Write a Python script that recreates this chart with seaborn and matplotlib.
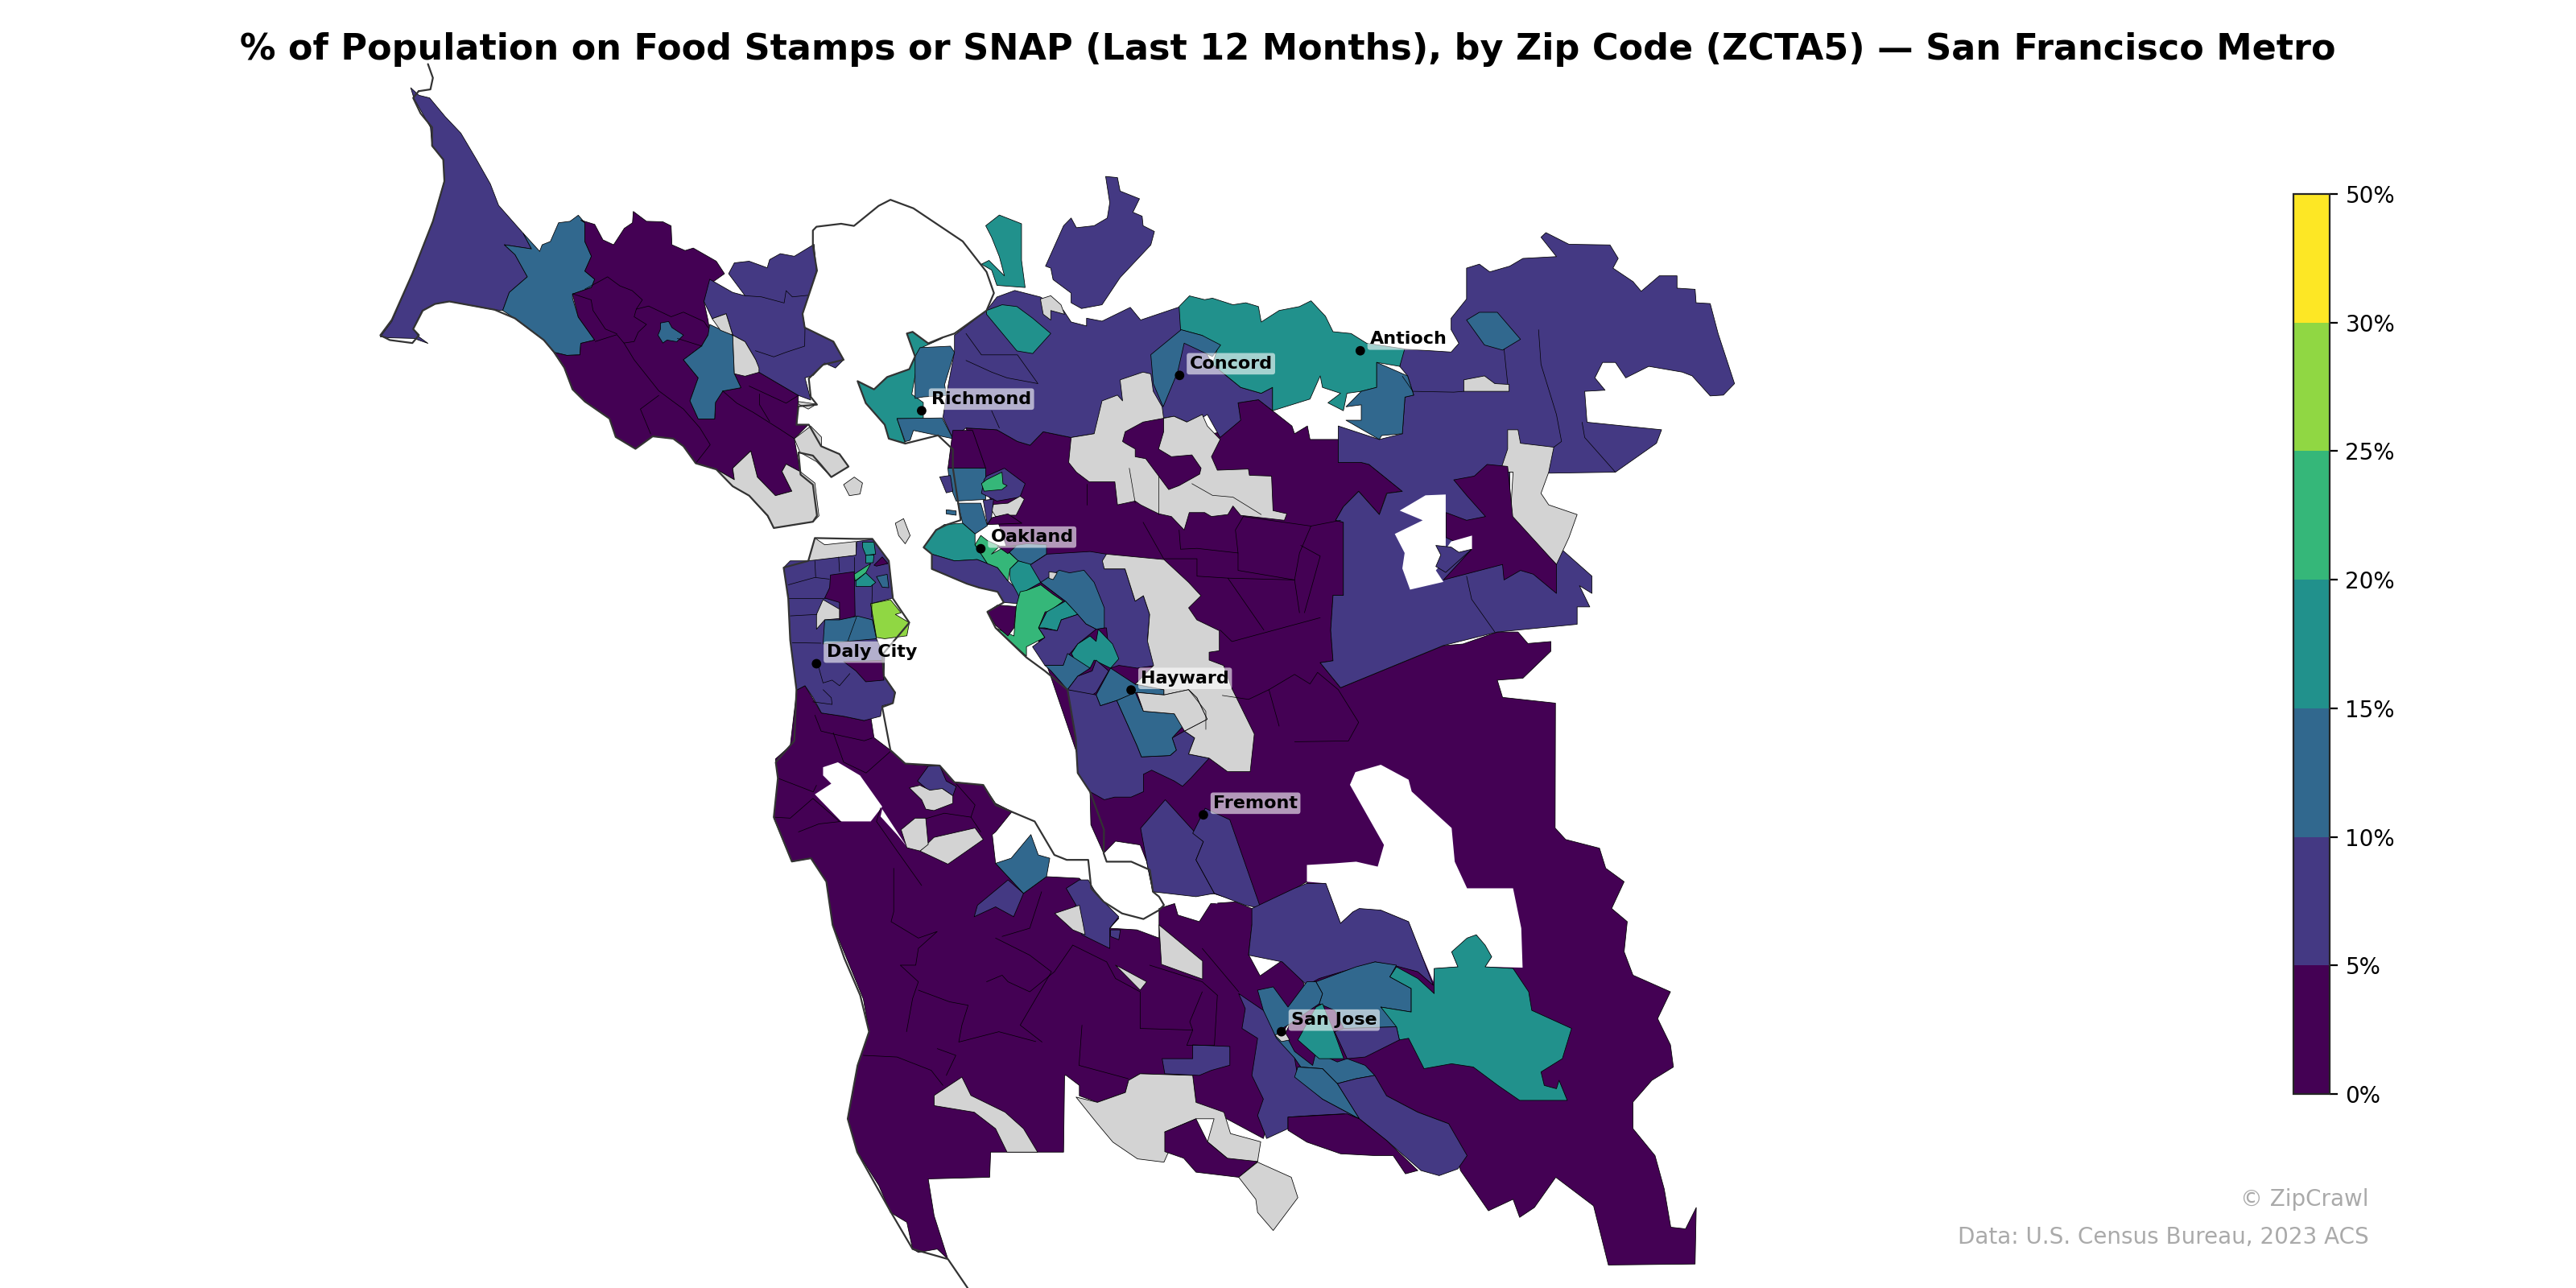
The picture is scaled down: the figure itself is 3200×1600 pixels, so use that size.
import matplotlib
matplotlib.use("Agg")
import matplotlib.pyplot as plt
import pandas as pd
import seaborn as sns
from matplotlib.colors import BoundaryNorm

# map coordinates: 1568 x 784 sheet, y grows downward
central_dark = [(588,260.5),(606.8,261.6),(619.3,268.7),(627,271),(635,262.8),(652,266.3),(682,252),(738,264),(744,262.8),(755,255.8),(753.6,245.2),(766,243.3),(774.6,250),(786.4,259.3),(788,264),(795.8,259.3),(797.4,267.5),(814.6,267.5),(814.6,281.5),(828.6,281.5),(833.3,282.7),(853.6,299),(844,300.3),(839.6,313.2),(827,299),(817.7,308.5),(813,316.7),(817.7,318),(817.7,362.4),(811.4,362.4),(810,383.5),(811.4,402.2),(803.6,403.4),(816,418.6),(878.6,393),(890.5,392),(911.4,384.7),(924,384.7),(930,391.7),(944,390.5),(944,396.4),(927,412.8),(911.4,414),(914.6,424.5),(946.8,428),(946.6,504),(953,511),(973.6,516.3),(977.4,528.5),(988.6,536.7),(981,553),(990.5,561),(988.6,579.3),(994,593.6),(1016.8,603.7),(1009,620),(1016.8,636),(1018.6,649.5),(1005.5,657.6),(994,670.8),(994,687),(1007.4,703.4),(1013,723.7),(1017,747),(1026,748),(1032.5,735),(1031.8,769.4),(979,770),(970,734),(947,716.6),(934,735),(925,741),(921,730),(906,737),(889,712.5),(881.8,684),(863,677),(844,667),(827,681),(780,685),(768,660),(795,602),(795.5,536.7),(767.4,552.9),(739,544),(701.7,542.8),(698,524.5),(694,514.3),(679,512),(671.8,519.4),(664,502),(663.5,482)]
peninsula_dark = [(490,417.4),(500,434),(513.5,436),(526,438.6),(530,436),(532,449),(542,456.6),(551,465),(563.5,466),(572,466.4),(581,476),(598.5,478),(606,489),(616,494),(606,506.4),(604,508),(606,525.5),(623,543.8),(637,533.6),(657,534.6),(668,547),(681,559),(675.5,565),(692,566),(705.5,571),(705.5,563),(705.5,553),(715,550),(717,557),(730,561),(737,550),(752,549),(762,553),(766.6,555),(762,563),(760,581),(767,594),(780,585),(792,595),(795,602),(765.5,658.6),(773,679),(769,693),(728,671),(726,654.6),(694,653.6),(687,657.6),(685,665),(668,671),(657,667),(657,660.7),(649,654.6),(648,654.6),(647.4,701.3),(603,701.3),(602.4,716.6),(565,717.6),(568.6,740),(577,766.4),(570.5,760.3),(559,762.3),(555.5,760.3),(552,744),(542,738),(535,721.7),(522,701.3),(516,681),(522,648.5),(529,628),(525.5,608),(507,563),(503,536.7),(494,522.4),(482,524.5),(471,498),(473.5,473.7),(472,462),(481,454),(485,420)]
hole_east = [(821.7,477.7),(842.4,514.3),(838.6,527.5),(825.5,524.5),(812.4,525.5),(795.5,526.5),(795.5,536.7),(807,537.7),(816,562),(823.6,555),(840.5,554),(857.4,561),(863,575.3),(872.4,597.6),(873,589.5),(887.4,588.5),(883.6,579.4),(898.6,569),(908,582.4),(904,588.5),(926.8,589),(926,565),(921,540.7),(893,540.7),(885.5,524.5),(883.6,504),(859.3,481.8),(857.4,474.6),(840.5,465.5),(825,470)]
hole_sky = [(501,467),(510,464),(523.5,472),(537,491),(530,500),(512,500),(496,483.5),(506,477),(501,472)]
hole_strip = [(537,492.5),(552,515.4),(546,508),(536,497)]
hole_fremont = [(705.5,545.8),(728,545.8),(741,547),(741,550),(733.6,549),(720.5,548),(707,551)]
hole_diablo = [(852,310.8),(867.7,301.5),(880,301),(880,334.3),(883.3,329.6),(896,326),(896,334.3),(889.6,336.6),(880,340),(874,347.2),(878.6,354.2),(858.3,358.9),(853.6,346),(855,336.6),(849,325),(866,316.7)]

marin_west = [(250,53.4),(255,58),(261.5,59.6),(271,71),(280.5,81),(290,97),(298.5,112),(303.5,125),(318.5,142),(323.5,151.5),(307,149),(313.5,155),(321,168.5),(310,178),(306,189),(300,188.5),(273.5,183.5),(265,185),(257,189),(251.5,200),(255,205),(260.5,209),(252,206),(237,205.6),(231.5,205),(238.5,195.7),(251,166.6),(263.5,134.7),(270.5,110),(270,97),(263,89),(262,77.5),(256,67),(252,60)]
marin_blue = [(318.5,142),(328.5,153),(330,149),(335,147),(340,135.6),(347,134.7),(352,131),(356,135.6),(356,147),(360,156),(356,165),(362,170),(360,175),(348.5,179),(348.5,181.6),(352,193),(362,207),(353.5,209),(353,216),(345,216.3),(337,214.4),(331,207),(313.5,194),(306,189),(310,178),(321,168.5),(313.5,155),(307,149),(323.5,151.5)]
marin_dark = [(353.5,134),(362,136.6),(367,146),(373.5,149),(380,139),(385,135.6),(385.5,128.7),(393.5,134.7),(403.5,135),(408.5,137.5),(409,149),(417,152.5),(422,151),(436,159),(441,166.6),(432,173),(428.5,183.5),(431,195),(432,202),(427,210.7),(416,219),(425,230),(420,244),(425,255),(435,255),(435.5,245),(440,238),(451,236),(447,227.5),(462,226.6),(486,240.7),(485,258.5),(492,258.5),(483.5,267),(487,287),(478.5,282.5),(476,287),(482,299),(472,301.7),(461,290.4),(457,274.5),(446,285),(447,292),(436,285.7),(423.5,282),(416,271.6),(410,267),(397,265.6),(387,273),(375,266),(371,254.8),(356,244.4),(348.5,237),(343.5,224),(337,214.4),(345,216.3),(353,216),(353.5,209),(362,207),(352,193),(348.5,179),(360,175),(362,170),(356,165),(360,156),(356,147),(356,135.6)]
marin_blob = [(402,196.6),(407,195.7),(409,199.4),(416,204),(412,208),(406,207),(403.5,208.8),(400.5,204),(402,200.4)]
marin_mid = [(432,197.5),(431,204),(427,210.7),(416,219),(425,230),(420,244),(425,255),(435,255),(435.5,245),(440,238),(451,236),(447,227.5),(446,204)]
marin_fairfax = [(433.5,194),(442,191),(446,204),(453.5,208),(460,219),(462,224),(462,226.6),(453.5,229),(447,227.5),(446,204),(438.5,201)]
marin_novato = [(443.5,166.6),(447,160),(456,159),(467,163),(468.5,158),(475,154.4),(483.5,156),(495.5,148.7),(497,164.7),(488.5,191),(490,199.4),(507,208),(513.5,219),(508.5,224),(502,221),(495,228.5),(490,230),(493.5,243.5),(486,240.7),(462,226.6),(460,219),(453.5,208),(446,204),(442,191),(433.5,194),(428.5,183.5),(432,170),(446,178),(453.5,180)]
marin_tiburon = [(483.5,267),(493.5,259.4),(500,266),(500,271.6),(511,276.4),(516.5,284),(506,290.4),(497,281),(487,275.4)]
marin_sausalito = [(487,287),(496,294),(498.5,314),(495,317.6),(471,321.4),(467,314),(456,301.7),(446,296),(436,285.7),(447,292),(446,285),(457,274.5),(461,290.4),(472,301.7),(482,299),(476,287),(478.5,282.5)]
marin_larkspur = [(486,244.4),(497,246),(492,249),(486,246)]
angel_island = [(513.5,295),(520,290.4),(525,294),(523.5,300.7),(517,301.7)]
treasure_island = [(545,318.5),(550,315.7),(554,326),(551,331),(547,326)]

vallejo_teal = [(600,137.4),(608.3,130.9),(621.8,136.2),(621.8,158.5),(624,175),(606.8,173.7),(603.6,164.4),(597.4,160.8),(602,158.5),(611.4,167.9),(608.3,156.2),(603.6,144.4)]
vallejo_purple = [(673,107.4),(680.2,108.1),(681.8,116.3),(693.6,121),(689.6,129.2),(695.2,131.6),(695.8,137.4),(702.7,140.9),(700.5,149.1),(681.8,169),(670.8,185.5),(658.3,187.8),(652,184.3),(652,178.4),(641,170.2),(639.6,163.2),(636.4,162),(647.4,137.4),(652,132.7),(655.2,138.6),(666,137.4),(674,132.7),(675.5,123.4)]
contra_north = [(574,254),(576,240.7),(581,214),(581,204),(600.5,189),(606.8,180.8),(617.7,176.8),(633.3,180.8),(647.4,189),(652,196),(661.4,198.4),(661.4,193.7),(670.8,195.5),(688,187.1),(694.3,194.8),(718.6,186.6),(738,221.8),(755.2,235.8),(767.7,239.4),(774.6,235.8),(774.6,250),(766,243.3),(753.6,245.2),(755.2,255.8),(742.7,266.3),(734.9,252.3),(725.5,258.1),(714.6,253.4),(706.8,254.6),(688,240.5),(666,264),(652,266.3),(635,262.8),(627,271),(619.3,268.7),(606.8,261.6),(588,260.5),(580,267)]
crockett_teal = [(600.5,189),(610,185.5),(619,186.6),(628.6,193.7),(639.6,203),(628.6,215.2),(619,213.6),(600.5,191.3)]
port_costa = [(633.3,182),(639.6,180),(645.8,185.5),(648,191.3),(639.6,189),(639.6,194.8),(635,191.3)]
richmond_teal = [(522,232),(532,237),(540,229.5),(553.5,224.7),(557,217),(552,203),(555.5,202),(565,209),(573.5,206),(560,212),(555,240),(562,245),(562,254.8),(546,254.8),(551,269.8),(541,267),(538.5,258.5),(527,245.4)]
richmond_blue = [(557,217),(560,211.6),(578.5,210.7),(581,214.4),(575,234),(576,240.7),(562,241.6),(557,242.5)]
richmond_south = [(546,254.8),(573.5,254.4),(580,267),(556,262),(554,268),(551,268.8)]
richmond_dark = [(580,262),(592,262),(600,285),(577,285)]
concord_teal = [(717.7,186.6),(724,180.1),(733.3,182.4),(738,181.5),(750.5,185.5),(758.3,184.3),(766,186.6),(767.7,196),(778.6,189),(791,186.6),(798,183.1),(806.8,192.5),(811.4,201.9),(822.4,203),(831.8,208.9),(855,212.4),(852,223),(838,220.6),(838,235.8),(828.6,238.2),(819.9,239.4),(817.7,250),(808.3,245.2),(816,239.4),(805,235.8),(803.6,228.8),(797.4,242.9),(774.6,250),(774.6,235.8),(767.7,239.4),(755.2,235.8),(738,221.8),(741,212.4),(731.8,204.2),(718.6,200.7)]
concord_blue = [(700.5,215.9),(719,200.7),(731.8,204.2),(743,210),(738,217),(720.8,208.9),(716.8,226.5),(708,247.6),(702,233.5)]
brentwood_blue = [(838,220.6),(856.8,228.8),(860.5,240.5),(855.2,241.7),(853.6,264),(841,265.1),(839.6,267.5),(819.3,255.8),(828.6,255.8),(828.6,246.4),(819.3,247.6),(828.6,238.2),(838,235.8)]
contra_east = [(892.7,163.2),(900.5,160.8),(906.8,165.5),(919,162),(927,157.3),(947.4,156.2),(938,144.4),(941,141.6),(955,148.7),(980,149.1),(985,157.3),(981.8,163.2),(994,171.4),(999,177.3),(1010,167.9),(1020.8,167.9),(1020.8,175.4),(1031.8,176.1),(1032.4,184.3),(1041,184.8),(1045.8,203),(1055.8,233.5),(1049,240.5),(1041,241),(1030,228.8),(1024,226.5),(1003.6,223),(989.6,230),(983.3,220.6),(975.5,220.6),(970.8,230),(977,237.5),(964.6,238.2),(966,257),(1011.4,261.6),(1008.3,269.8),(983.3,287.4),(944,288),(919,287.4),(919,315.5),(949,333),(969,350.7),(969,361.2),(961.4,356.5),(967.7,369.4),(960,369.4),(960,380),(911.4,384.7),(878.6,392.9),(816,418.6),(803.6,403.4),(811.4,402.2),(810,383.5),(811.4,362.4),(817.7,362.4),(817.7,317.9),(813,316.7),(817.7,308.5),(827,299.1),(839.6,313.2),(844.3,300.3),(853.6,299.1),(833.3,282.7),(828.6,281.5),(814.6,281.5),(814.6,259.3),(839.6,267.5),(853.6,264),(855.2,241.7),(860.5,240.5),(856.8,228.8),(852,223),(853.6,212.4),(883.3,214.3),(888,209),(883.3,200.7),(883.3,193.7),(892.7,182)]
east_grey = [(917.7,261.6),(924,261.6),(925.5,269.8),(945.8,272.2),(942.7,287.4),(938,300.3),(942.7,307.3),(960,313.2),(955,327.2),(947.4,343.6),(919.3,315.5),(921,287.4),(913,287.4),(917.7,273.3)]
east_dark = [(884.9,292.1),(897.4,289.8),(905.2,282.7),(917.7,283.9),(920.8,314.4),(947.4,343.6),(947.4,361.2),(933.3,349.5),(925.5,347.2),(915.5,353),(914.6,343.6),(878.6,353),(895.8,334.3),(880.2,327.2),(880.2,312),(892.7,316.7),(904.2,314.4),(892.7,301.5)]
east_pocket = [(874,332),(883.3,333),(888,336.2),(895.8,334.3),(880,348.4),(874,344.8),(877,337.8)]
east_sliver = [(891,231.2),(903.6,228.8),(909.9,233.5),(918.6,234),(918.6,238.2),(891,238.2)]
east_blue = [(892.7,194.8),(900.5,190.1),(911.4,190.1),(925.5,206.5),(914.6,213.1),(903.6,210)]
lamorinda_grey = [(652,266.3),(666,264),(670.8,244),(680.2,240.5),(683.3,244),(681.8,231.2),(695.8,226.5),(700.5,227.6),(702,238.2),(707.4,247.6),(708.3,254.6),(714.6,253.4),(722.4,256.9),(731.8,252.3),(734.9,259.3),(742.7,267.5),(737.4,278),(741,286.2),(759.9,285.5),(760.5,289.3),(774,289.8),(774.9,310.8),(783.3,312.7),(781.8,316.7),(755.2,313.7),(750.5,308),(747.4,313.2),(737.4,314.4),(733.3,312),(723.9,312),(720.8,322.6),(713,314.4),(705.2,312.7),(694.3,307.3),(691,305),(680.2,307.3),(678.6,293.3),(663,293.3),(655.2,287.4),(650.5,281.5)]
blackhawk_dark = [(683.3,268.7),(684.9,262.8),(695.8,256.9),(708.3,254.6),(708.3,262.8),(705.2,273.3),(713,278),(725.5,276.9),(731.1,285),(730.2,288.6),(717.7,295.6),(711.4,298),(697.4,279.2),(691,278),(691,273.3),(684.9,269.8)]
east_oak_blue = [(577,285),(600,285),(600,304),(582,305),(578,295)]
piedmont_purple = [(600.5,289.8),(611.4,285),(624,294.4),(620.8,302.6),(606.8,305),(597.4,300.3),(599,292)]
albany_green = [(600.5,292),(609.9,287.4),(610.5,294.4),(613,295.6),(609.9,298),(599,299),(597.4,294.4)]
oak_hills_grey = [(604.8,307),(613.5,306.3),(621,302),(623.5,303.8),(618.5,313.6),(614.8,313.6),(606,314.4),(603.5,310.3)]
emery_blue = [(583,306.3),(597,306.3),(601,320),(593.5,325),(586,318.5)]
claremont_purple = [(598.5,304.6),(604.8,303.8),(603.5,315.2),(601,319.3)]
rockridge_dark = [(604,315),(613.5,312.8),(622,318.5),(601,319.3)]
pier_blue = [(576,310.3),(582,311),(582,313.6),(576,312.8)]
point_purple = [(572,290.3),(578.5,289.4),(580,299),(576,300)]
oak_teal = [(562.2,333.2),(569.8,322.6),(574.8,319.3),(586,318.5),(593.5,325),(593.5,331.6),(601,343),(594.8,340.6),(581,341.4),(567.2,337.3)]
oak_green = [(593.5,331.6),(597,325.9),(601,329),(608.5,332.4),(603.5,337.3),(611,333.2),(619.8,341.4),(614.8,346.3),(613.5,353.6),(607.2,345.5),(601,343)]
alameda_purple = [(567.2,337.3),(581,341.4),(594.8,340.6),(601,343),(607.2,345.5),(613.5,353.6),(619.8,359.4),(621,367.5),(611,366.7),(607.2,360.2),(596,357.7),(588.5,355.3),(567.2,346.3)]
oak_blue = [(611,333),(625,331),(637,331.6),(637,337.3),(627.2,343.8),(619.8,341.4)]
oak_dark = [(607,332.4),(618.5,332.4),(613.5,337)]
fruitvale_teal = [(619.8,341.4),(628.5,343.8),(633.5,354.5),(623.5,360.2),(621,364.3),(614.8,352.8),(614.8,346.3)]
castro_purple = [(627.2,343.8),(637.2,337.3),(663.5,335.7),(673.5,337.3),(672.2,346.3),(684.8,346.3),(691,365.9),(696,362.6),(699.8,374),(698.5,388.8),(702.2,398.6),(703.5,405.1),(692.2,406.7),(681,405),(676,406.7),(673.5,382.2),(668.5,382.2),(661,379.8),(648.5,365.9),(633.5,354.5)]
sanleandro_blue = [(633.5,354.5),(644.8,347.1),(651,348.7),(659.8,347.1),(666,354.5),(672.2,370),(672.2,382.2),(667.2,383),(661,379.8),(648.5,365.9)]
chabot_grey = [(638.5,348),(643.5,348.7),(641,352.8),(638.5,352)]
sanleandro_green = [(633.5,356),(641,361.8),(647.2,365.9),(638.5,372.4),(636.2,372.4),(632.2,382.2),(636,388),(624.8,393.7),(624.8,399.4),(606,382.2),(617.2,387.1),(618.5,369.2),(621,360.2),(624.8,359.4)]
bayfarm_dark = [(601,372.4),(607.2,368.3),(618.5,369.2),(617.2,382.2),(613.5,387.1),(606,380.6)]
ashland_teal = [(632.2,382.2),(637.2,372.4),(648.5,365.9),(656,374),(646,377.3),(643.5,383.9),(636,382.2)]
lorenzo_purple = [(628.5,393.7),(636,388),(632.2,382.2),(643.5,383.9),(646,377.3),(656,374),(661,379.8),(667.2,383),(656,392),(653.5,395.3),(649.8,399.4),(647.2,405),(636,405)]
hayward_teal = [(656,392),(663.5,387.1),(667.2,390.4),(668.5,383),(677.2,392),(681,401),(676,406.7),(666,401.8),(663.5,406.7),(656,405),(652.2,397.8)]
hayward_west = [(636,405),(647.2,405),(649.8,397.8),(663.5,406.7),(656,411.6),(649.8,419.8),(639.8,408.4)]
hayward_small = [(649.8,419.8),(656,411.6),(664.8,408.4),(667.2,401.8),(674.8,408.4),(667.2,421.5),(661,425.5),(657.2,422.3)]
hayward_blue = [(676,406.7),(691,416.5),(708.5,419.8),(708.5,423),(692.2,421.5),(679.8,426.4),(669.8,429.6),(667.2,423)]
unioncity_blue = [(679.8,426.4),(691,421.5),(696,432.9),(714.8,434.5),(721,441),(713.5,449.2),(716,456.6),(712.2,459.9),(694.8,460.7),(692.2,454.1)]
unioncity_purple = [(649.8,419.8),(667.2,423),(669.8,429.6),(679.8,426.4),(692.2,454.1),(694.8,460.7),(712.2,459.9),(716,456.6),(713.5,449.2),(721,445),(727.2,449.2),(723.5,459),(736,461.5),(724.8,473.7),(719.8,478.6),(714.8,475.4),(701,468.8),(696,471.3),(696,481.9),(688.5,485.2),(678.5,485.2),(672.2,486.8),(663.5,481.9),(656,470.5),(654.8,449.2)]
sunol_grey = [(671,341.4),(673.5,337.3),(708.5,340.6),(723.5,354.5),(731,362.6),(723.5,370),(728.5,377.3),(742.2,383.9),(742.2,396.1),(736,397),(736,401.8),(744.8,405.1),(749.8,419),(763.5,446.8),(761,469.7),(747.2,469.7),(736,461.5),(723.5,459),(727.2,449.2),(721,445),(734.8,437.8),(728.5,424.7),(723.5,419.8),(708.5,423),(708.5,419.8),(691,416.5),(702.2,405),(698.5,390.4),(699.8,374),(696,362.6),(691,365.9),(684.8,346.3),(672.2,346.3)]
hayward_grey = [(692,421.5),(708.5,423),(723.5,419.8),(728.5,424.7),(734.8,437.8),(721,445),(714.8,434.5),(696,432.9)]
fremont_west = [(709.3,486.8),(694.3,504.1),(698,524.5),(701.7,542.8),(728,545.8),(739.2,543.8),(728,523.4),(732.5,512.3)]
fremont_east = [(726,507.2),(733.6,492),(748.6,499),(767.4,552.9),(758,551),(739.2,543.8),(728,523.4),(732.5,512.3)]

sf_top_grey = [(496,327.5),(502,331.6),(521,329.6),(521.5,338),(492,342)]
sf_body = [(477,345.5),(481,341.4),(492,341.4),(521,338),(521.5,329.6),(531,328.3),(541,341.4),(543.5,364),(530,367.5),(533.5,388.8),(538.5,400),(538,411.6),(545,421.5),(543.5,428),(537,429.6),(536,436),(526,438.6),(513.5,436),(500,434),(495,424.7),(490,417.4),(485,420),(481,389.6),(480,364)]
sf_dark = [(505.5,350),(520,348),(520.5,375),(511,379),(511,366.7),(502,364),(505,357.7)]
sf_grey = [(501,365),(511,370.8),(511,376.5),(502,377.3),(497,383),(497,374)]
sf_blue = [(502,377.3),(511,377.3),(522,375),(531,377.3),(533.5,388.8),(516,390.4),(501,392)]
sf_bright = [(530,367.5),(542,365),(548.5,373),(545,374),(553.5,379),(552,387),(538.5,388.8),(533.5,388)]
sf_green = [(520,349.5),(530,343),(527,348.7),(520.5,353.6)]
sf_teal = [(521,353.6),(527,348.7),(533,354.5),(530,357),(521,357)]
sf_teal_top = [(525,330),(532,330),(533,337.3),(527,338),(525,333)]
sf_teal_mid = [(527,338),(532,337.8),(531.5,342.5),(527,342.7)]
sf_dark_small = [(532,344),(537,339),(540.5,343),(533.5,344.6)]
sf_blue_small = [(533.5,351),(540,349.6),(541,357.7),(537,357.4)]
brisbane_dark = [(513.5,402.7),(537,402),(538,414),(527,415),(521,408.4)]
foster_grey = [(553.5,479.5),(560,478),(566,481),(573.5,480),(580,484.4),(580,489),(568.5,493.4),(563.5,492.5),(561,486.8)]
redwood_purple = [(558.5,475.4),(565,466.4),(572,466),(576,475.4),(582,478.7),(580,484.4),(573.5,480),(568.5,484.4),(572,487)]
redwood_grey = [(560,518),(568.5,509.7),(593.5,504),(598.5,511),(588.5,518),(577,526)]
woodside_grey = [(548.5,505),(557,498),(563.5,498),(565,514),(560,518),(552,516)]
epa_blue = [(606,525.5),(615.5,522.4),(627.5,508),(632,520.4),(639,522.4),(637,533.6),(623,543.8)]
menlo_purple = [(593,558),(595,551),(613.6,535.6),(623,543.8),(617,558),(606,552)]
moffett_purple = [(649,540.7),(657,535.6),(662.4,535.6),(666,541.7),(672,549),(681,558),(675.5,565),(675.5,577.3),(658.6,569),(651,555),(655,551)]
mtview_grey = [(642,556),(657,551),(659,561),(660.5,569),(653,566)]
sunny_grey = [(679,587.5),(683,589.5),(698,597.6),(694,602.7)]
alviso_purple = [(676,566),(682,566),(681,572),(676,570)]
alum_grey = [(705.5,563),(732,585),(732,596),(707,587)]
sj_north = [(762,553),(788,540.7),(795.5,537.7),(807,537.7),(816,562),(823.6,555),(827.4,553),(840.5,554),(857.4,561),(863,575.3),(872.4,599.7),(863,591.5),(848,587.5),(837,585.5),(803,595.6),(795.5,599.7),(780.5,585.5),(760,581.4),(762,563)]
sj_west = [(754,604.8),(769,615),(788,644),(790,655.6),(805,669),(827.4,681),(818,678),(799,679),(784,680),(784,687),(771,693),(765.5,679),(769,669),(762,654.6),(765.5,632),(756,626),(758,614)]
sj_blue_north = [(801,597.6),(825.5,588.5),(837,585.5),(850,587.5),(846,594.6),(859,601.7),(859,616),(840.5,613),(853.6,624),(852,625),(818,626),(812.4,615),(803,611),(805,604.8)]
sj_blue = [(765.5,602.7),(775,600.7),(784,613),(795.5,597.6),(801,597.6),(805,604.8),(803,611),(784,624),(780.5,626),(788,640),(799,648.5),(801,640.4),(814,646.4),(820,644.4),(831,648.5),(836.8,654.6),(825.5,656.6),(814,659.6),(805,650.5),(791.8,649.5),(788,644),(777,632),(769,615)]
sj_teal = [(801,613),(805,611),(812,628),(818,644.4),(803,644.4),(790,633)]
hamilton_teal = [(846,594.6),(850,588.5),(863,595.6),(873,604.8),(873,589.5),(887.4,588.5),(883.6,579.4),(893,571),(898.6,569),(904,575.3),(908,582.4),(904,588.5),(921,589.5),(930.5,603.7),(932.4,615),(956.6,626),(951,644.4),(938,652.5),(940,660.7),(947.4,662.7),(949,657.6),(954,669.8),(925,669.8),(911.8,660.7),(896.8,649.5),(883.6,647.5),(866.8,650.5),(857.4,632),(851.8,633),(850,625),(840.5,613),(859,616),(859,601.7)]
sj_center = [(818,626),(850,625),(851.8,633),(831,643.4),(820,644.4),(812.4,628)]
morgan_purple = [(836.8,654.6),(844,667),(863,677),(881.8,684),(893,703.4),(887.4,711.5),(876,715.6),(865,712.5),(844,694.2),(827.4,681),(814,659.6),(825.5,656.6)]
sj_blue_south = [(790,649.5),(805,650.5),(814,659.6),(827.4,681),(805,669),(788,655.6)]
sj_dark_south = [(784,680),(820,678),(827.4,681),(844,694.2),(863,712.5),(855.5,714.5),(848,703.4),(836.8,703.4),(816,702.3),(795.5,695.2),(784,688)]
cupertino_purple = [(707.4,644.4),(726,644.4),(726,636),(748.6,637),(748.6,648.4),(737.4,651.5),(730,654.6),(709,653.6)]
portola_grey = [(568.6,666.8),(585.5,655.6),(591,666.8),(611.8,677),(623,687),(631.6,701.3),(613,701.3),(606,687),(593,677),(568.6,673)]
skyline_grey = [(655,667.8),(668,671),(685,665),(687,657.6),(694,653.6),(726,654.6),(728,671),(745,677),(749,690),(767.4,695),(765.5,707),(756,713.5),(749,713.5),(747,705),(735,695),(739,681),(728,681),(709,689),(713,697.3),(708.5,707.4),(692.4,705.4),(677.4,695.2),(668,684)]
losgatos_dark = [(709,689),(728,681),(735,695),(747,705),(765.5,707),(754,716.6),(728,713.5),(720.5,705),(709,701)]
summit_grey = [(765.5,707.4),(786,716.6),(790,729),(775,749),(765.5,738),(764.4,730),(754,716.6)]
sj_dot_grey = [(776,630),(782,628),(785,633),(780,634)]

# every zone with its SNAP share in percent, in drawing order (None = no data)
zones = [
    (central_dark, 2), (peninsula_dark, 2),
    (marin_west, 7), (marin_blue, 12), (marin_dark, 2), (marin_blob, 12), (marin_mid, 12), (marin_novato, 7),
    (marin_fairfax, None), (marin_tiburon, None), (marin_sausalito, None), (marin_larkspur, None),
    (angel_island, None), (treasure_island, None),
    (vallejo_teal, 17), (vallejo_purple, 7), (contra_north, 7), (crockett_teal, 17), (port_costa, None),
    (richmond_teal, 17), (richmond_blue, 12), (richmond_south, 12), (richmond_dark, 2),
    (contra_east, 7), (concord_teal, 17), (concord_blue, 12), (brentwood_blue, 12),
    (east_grey, None), (east_dark, 2), (east_sliver, None), (east_blue, 12),
    (lamorinda_grey, None), (blackhawk_dark, 2),
    (east_oak_blue, 12), (piedmont_purple, 7), (albany_green, 22), (oak_hills_grey, None), (emery_blue, 12),
    (claremont_purple, 7), (rockridge_dark, 2), (pier_blue, 12), (point_purple, 7),
    (oak_teal, 17), (alameda_purple, 7), (oak_green, 22), (oak_blue, 12), (oak_dark, 2), (fruitvale_teal, 17),
    (castro_purple, 7), (sanleandro_blue, 12), (chabot_grey, None), (sanleandro_green, 22), (bayfarm_dark, 2),
    (ashland_teal, 17), (lorenzo_purple, 7), (hayward_teal, 17), (hayward_west, 12), (hayward_small, 7),
    (hayward_blue, 12), (unioncity_purple, 7), (unioncity_blue, 12), (sunol_grey, None), (hayward_grey, None),
    (fremont_west, 7), (fremont_east, 7),
    (sf_top_grey, None), (sf_body, 7), (sf_dark, 2), (sf_grey, None), (sf_blue, 12), (sf_bright, 27),
    (sf_green, 22), (sf_teal, 17), (sf_teal_top, 17), (sf_teal_mid, 17), (sf_dark_small, 2), (sf_blue_small, 12),
    (brisbane_dark, 2), (redwood_purple, 7), (foster_grey, None), (redwood_grey, None), (woodside_grey, None),
    (menlo_purple, 7), (epa_blue, 12), (moffett_purple, 7), (mtview_grey, None), (sunny_grey, None),
    (alviso_purple, 7), (alum_grey, None),
    (sj_north, 7), (sj_west, 7), (sj_blue_north, 12), (sj_blue, 12), (sj_teal, 17), (hamilton_teal, 17),
    (sj_center, 7), (morgan_purple, 7), (sj_blue_south, 12), (sj_dark_south, 2), (cupertino_purple, 7),
    (portola_grey, None), (skyline_grey, None), (losgatos_dark, 2), (summit_grey, None), (sj_dot_grey, None),
]
holes_first = [hole_east, hole_sky, hole_strip, hole_fremont]
holes_after = [hole_diablo]
pocket_zones = [(east_pocket, 7)]

# thin zip borders inside same-coloured areas
zip_borders = [
    [(348.5,178.8),(359.8,182.5),(361,189),(368.5,200.3),(375.5,203.2)],
    [(356,176),(364.8,171.3),(369.8,168.5),(377.3,174),(384.8,176.9),(391,182.5),(387.3,188.2),(386,192.8),(393.5,197.5),(388.5,202.2),(386,207.9),(379.8,208.8),(375.5,203.7),(362.3,207.9)],
    [(387.3,188.2),(394.8,186.3),(408.5,192.8),(416,190),(428.5,195.7),(431,199.4)],
    [(427.3,210.7),(412.3,206)],
    [(379.8,208.8),(386,219),(401,237.9),(408.5,243.5),(416,249),(426,260.4),(432.3,270.7),(423.5,282)],
    [(401,240.7),(389.8,249),(396,264)],
    [(439.8,237.9),(448.5,245.4),(458.5,251),(474.8,261.3),(483.5,267)],
    [(462.3,239.8),(462.3,246.3),(468.5,256.6)],
    [(456,235),(478.5,245.4),(486,240.7)],
    [(453.5,180),(463.5,180.7),(477.3,184.4),(478.5,176.9),(482.3,180.7),(492.3,179.7)],
    [(490,199.4),(489.8,210.7),(478.5,214.4),(471,217.2),(459.8,213.5)],
    [(479.8,356),(496,351.5),(504.8,352.5)],
    [(479.8,364.3),(502.3,364.3)],
    [(481,374.9),(497.3,374)],
    [(496,341.4),(496.5,351.2)],
    [(510.5,339),(511,348)],
    [(519.8,339),(519.8,348)],
    [(482.3,391.2),(499.8,391.5)],
    [(498,405),(501,415.7),(506.5,414),(511,417.4),(517.3,410)],
    [(501,419.8),(506,424.7),(506.5,428.8),(494.8,427.2)],
    [(521.5,375.2),(516,390.4)],
    [(531,356),(530.5,375.7)],
    [(544,528.5),(544,555),(542.4,561),(559,571),(570.5,567),(559,577.3),(557.4,587.5),(548,587.5),(559,597.6),(555.5,607.8),(551.8,628)],
    [(559,602.7),(578,609.8),(589.3,611.9),(585.5,624),(583.6,634.3),(608,628),(630.5,634)],
    [(525.5,642.4),(546,643.4),(566.8,651.5),(574,660.7)],
    [(570.5,638.3),(581.8,642.4),(576,654.6)],
    [(606,571),(626.8,581.4),(640,591.5),(630.5,607.8),(621,624),(634.3,634.3)],
    [(600.5,597.6),(610,593.6),(613.6,597.6),(626.8,603.7),(641.8,591.5),(653,575.3)],
    [(653,575.3),(673.6,585.5),(679,595.6),(694,603.7),(694,626),(726,627),(724.2,622),(731.8,603.7)],
    [(658.6,624),(656.8,648.5),(686.8,656.6)],
    [(731.8,577.3),(754,603.7)],
    [(741,605.8),(739.2,636.3),(722.4,636.3),(726,627)],
    [(699.8,587.5),(731.8,597.6),(741,605.8)],
    [(634,542.8),(626.8,565),(610,570)],
    [(473.5,473.7),(495,482),(497,478)],
    [(471,497.4),(481,498),(494.8,486),(511,500)],
    [(486,506.4),(498.5,501.5),(512,500)],
    [(536,491.7),(533.5,500),(544.8,516.2),(561,539)],
    [(507.2,446),(513.5,463.9),(527.2,470.5),(542,457.4)],
    [(496,435.3),(499.8,445),(507.2,446.8),(526,450.9),(531,449.2)],
    [(563.5,498.3),(574.8,495),(591,497.4),(593.5,490),(582,477)],
    [(591,497.4),(597,506.4)],
    [(661.4,294.4),(661.4,307.3)],
    [(695.8,317.9),(708.3,340.1),(728.6,340.1),(728.6,350.7),(747.4,351.9),(769.3,383.5)],
    [(717.7,322.6),(718.6,334.3),(728.6,333.8),(753.6,336.6),(752,322.6),(756.8,314.4)],
    [(753.6,336.6),(753.6,347.2),(788,353),(791,336.6),(798,320.2),(756.8,314.4)],
    [(747.4,351.9),(788,353),(791,373)],
    [(798,320.2),(816,316.7)],
    [(791.8,332),(803.6,338.5),(794,373)],
    [(742.7,383.5),(749.9,390.5),(803.6,376)],
    [(744,423.3),(760,425.7),(772.4,419.8),(788,410.5),(797.4,416.3),(802,409.3),(814.6,419.8),(827,439.7),(820.8,451),(788,451.5)],
    [(772.4,419.8),(778.6,442)],
    [(853.6,229),(860,238.2),(884.9,238.7),(891,238.2)],
    [(915.5,212.4),(917.7,233.5)],
    [(936.5,200.7),(938,221.8),(947.4,252.3),(950.5,268.7),(945.8,272.2)],
    [(963,257),(964.6,266.3),(983.3,287.4)],
    [(892.7,350.7),(895.8,364.8),(909.9,384.7)],
    [(588,203),(597.4,216),(619.3,216),(631.8,233.5),(613,230),(603.6,226.5),(588,219.4)],
    [(603.6,250),(608.3,260.5)],
    [(723.5,419.8),(734,433),(734,444)],
    [(687.4,285),(691,306.2)],
    [(705.2,289.8),(705.2,313.2)],
    [(725.5,294.4),(738,301.5),(750.5,302.6),(767.7,313.2)],
]

# coast and county line
north_stub = [(260.5,39),(263.5,47.4),(262,54.4),(254.8,55.5)]
coast_line = [(254.8,55.5),(251.5,59.6),(256,69),(263,77.5),(263,88.7),(269.8,97.2),(270.5,110.3),(263.5,134.7),(251,166.6),(238.5,194.7),(231.5,204.1),(237.3,207),(251,208.8),(255,204),(251.5,200.3),(257.3,189.1),(264.8,185),(273.5,183.5),(301,188.5),(313.5,193.8),(331,207),(337.3,214.4),(343.5,223.8),(348.5,237),(356,244.4),(371,254.8),(374.8,266),(386.8,273.2),(397.3,265.6),(409.8,267),(416,271.6),(423.5,282),(436,285.7),(446,296),(456,301.7),(467.3,313.9),(471,321.4),(494.8,317.6),(497.3,313.9),(494.8,295),(487.3,288.9),(486,275.4),(494.8,277.3),(499.8,283),(506,290.4),(516.5,284),(511,276.4),(499.8,271.6),(492.3,258.5),(484.8,258.5),(486,247.3),(497.3,246.3),(493.5,241.6),(492.3,230.4),(501,222),(513.5,219),(507.3,207.9),(489.8,199.4),(488.5,191),(497.3,164.7),(494.8,149.7),(494.8,140.3),(497,138),(512,136.2),(519.8,137.5),(534.8,125.3),(542,121.6),(556,126.8),(586,146.9),(600.5,165.5),(605,178.4),(600.5,189),(581,203),(573.5,205.5),(565,209),(555.5,202),(552,203),(557,217),(553.5,224.7),(540,229.5),(532,237),(522,232),(527,245.4),(538.5,258.5),(541,267),(551,270),(571,265),(580,273.5),(580,284.7),(584.8,316.6),(576,319.5),(569.8,322.6),(562.2,333.2),(567.2,337.3),(567.2,346.3),(588.5,355.3),(596,357.7),(607.2,360.2),(611,366.7),(601,372.4),(606,382.2),(624.8,400.2),(636,408.4),(649.8,419.8),(654.8,449.2),(656,470.5),(663.5,481.9),(672,505),(671.8,519.4),(673.6,524.5),(688.6,524.5),(699.9,529.5),(701.8,542.8),(705.5,545.8),(708.5,550.9),(705.5,554),(696,559.4),(683,556),(671.8,548.9),(664.2,540.7),(662.4,523.4),(649.3,523.4),(641.8,520.4),(629.8,500),(615.5,494),(606,490),(598.5,477.8),(581,476.2),(572,466),(551,464.8),(542,456.6),(537,430.4),(543.5,428),(544.8,421.5),(538,411.6),(537,398.6),(553.5,379),(543.5,364.3),(541,341.4),(531,328),(521,328),(496,327.5),(492,341.4),(477,345.5),(479.8,364.3),(481,389.6),(484.8,419.8),(483.5,450.9),(472.2,464),(473.5,473.7),(471,497.4),(482,524.4),(493.6,522.4),(503,536.7),(506.8,563),(514,583.4),(523.6,605.8),(529,628),(522,648.5),(516,681),(521.8,701.3),(542.4,738),(555.5,760.3),(577,766.4),(589,784)]

# cities
city_names = ["Richmond", "Concord", "Antioch", "Oakland", "Daly City", "Hayward", "Fremont", "San Jose"]
city_x = [561, 718, 828, 597, 497, 688.5, 732.5, 780]
city_y = [250, 228.5, 213.5, 334, 404, 420, 496, 628]

band_edges = [0, 5, 10, 15, 20, 25, 30, 50]
tick_labels = ["0%", "5%", "10%", "15%", "20%", "25%", "30%", "50%"]

sns.set_style("white", {"text.color": "black", "ytick.color": "black", "xtick.color": "black"})
cmap = plt.get_cmap("viridis", len(band_edges) - 1)
norm = BoundaryNorm(band_edges, cmap.N)
grey = "#d3d3d3"

fig = plt.figure(figsize=(16, 8), dpi=200, facecolor="white")
ax = fig.add_axes([0, 0, 1, 1])
ax.set_xlim(0, 1568)
ax.set_ylim(784, 0)
ax.axis("off")


def draw_zone(points, value):
    xs, ys = zip(*points)
    color = grey if value is None else cmap(norm(value))
    ax.fill(xs, ys, facecolor=color, edgecolor="black", linewidth=0.28, joinstyle="round")


def draw_hole(points):
    xs, ys = zip(*points)
    ax.fill(xs, ys, facecolor="white", edgecolor="none")


base_count = 2
for points, value in zones[:base_count]:
    draw_zone(points, value)
for points in holes_first:
    draw_hole(points)
for points, value in zones[base_count:]:
    draw_zone(points, value)
for points in holes_after:
    draw_hole(points)
for points, value in pocket_zones:
    draw_zone(points, value)

for line in zip_borders:
    xs, ys = zip(*line)
    ax.plot(xs, ys, color="black", linewidth=0.25)

for line in [north_stub, coast_line]:
    xs, ys = zip(*line)
    ax.plot(xs, ys, color="#333333", linewidth=0.8, solid_joinstyle="round")

cities = pd.DataFrame({"name": city_names, "x": city_x, "y": city_y})
sns.scatterplot(data=cities, x="x", y="y", color="black", s=18, edgecolor="none", ax=ax, zorder=5, legend=False)
for _, row in cities.iterrows():
    ax.annotate(row["name"], xy=(row["x"], row["y"]), xytext=(4.4, 1.6), textcoords="offset points",
                fontsize=8, fontweight="bold", color="black", va="bottom", ha="left", zorder=6,
                bbox=dict(boxstyle="round,pad=0.15", facecolor="white", edgecolor="none", alpha=0.6))
ax.set_xlabel("")
ax.set_ylabel("")

fig.suptitle("% of Population on Food Stamps or SNAP (Last 12 Months), by Zip Code (ZCTA5) — San Francisco Metro",
             fontsize=16, fontweight="bold", color="black", x=0.5, y=0.9748, va="top")

cax = fig.add_axes([2849 / 3200, 1 - 1359 / 1600, 45 / 3200, 1118 / 1600])
sm = plt.cm.ScalarMappable(cmap=cmap, norm=norm)
cbar = fig.colorbar(sm, cax=cax, spacing="uniform", ticks=band_edges)
cbar.ax.set_yticklabels(tick_labels)
cbar.ax.tick_params(labelsize=10, length=3.5, width=0.8)
cbar.ax.minorticks_off()

ax.text(1442, 730, "© ZipCrawl", fontsize=10, color="#aaaaaa", ha="right", va="center", zorder=7)
ax.text(1442, 753, "Data: U.S. Census Bureau, 2023 ACS", fontsize=10, color="#aaaaaa", ha="right", va="center", zorder=7)

fig.savefig("out.png", dpi=200, facecolor="white")
plt.close(fig)
